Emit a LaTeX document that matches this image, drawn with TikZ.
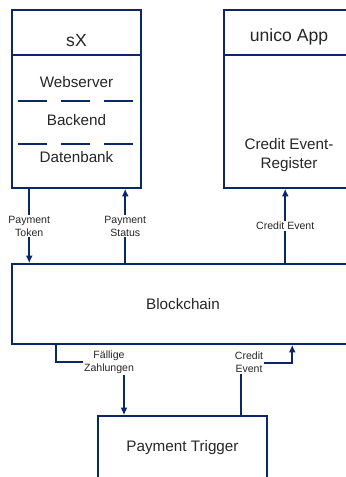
\documentclass[tikz,border=0pt]{standalone}
\usepackage{fontspec}
\setmainfont{Liberation Sans}
\usetikzlibrary{arrows.meta}
\definecolor{navy}{RGB}{12,40,100}

\begin{document}
\begin{tikzpicture}[
        box/.style={rectangle, draw=navy, line width=1.3pt, fill=white, font=\fontsize{13}{15.5}\selectfont, text=black!85},
        txt/.style={font=\fontsize{13}{15.5}\selectfont, text=black!85, align=center},
        head/.style={font=\fontsize{15}{18}\selectfont, text=black!85},
        lbl/.style={fill=white, inner sep=1pt, font=\fontsize{9}{11}\selectfont, text=black!85, align=center},
        arrow/.style={-{Latex[length=6.5pt,width=6pt]}, draw=navy, line width=1.3pt},
        sep/.style={draw=navy, line width=1.3pt, dash pattern=on 0.87cm off 0.42cm}
    ]
        \useasboundingbox (0,0) rectangle (10.35,-14.31);
        % sX
        \node[box, minimum width=3.87cm, minimum height=5.34cm] (sx) at (2.295,-2.97) {};
        \node[box, anchor=north, minimum width=3.87cm, minimum height=1.35cm] (sxhead) at (sx.north) {};
        \node[head] (sxname) at (2.295,-1.23) {sX};
        \node[txt] (web) at (2.295,-2.46) {Webserver};
        \node[txt] (backend) at (2.295,-3.6) {Backend};
        \node[txt] (db) at (2.295,-4.71) {Datenbank};
        \draw[sep] (0.54,-3.03) -- (3.99,-3.03);
        \draw[sep] (0.54,-4.32) -- (3.99,-4.32);

        % unico App
        \node[box, minimum width=3.9cm, minimum height=5.34cm] (unico) at (8.67,-2.97) {};
        \node[box, anchor=north, minimum width=3.9cm, minimum height=1.35cm] (unicohead) at (unico.north) {};
        \node[head] (uniconame) at (8.67,-1.11) {unico App};
        \node[txt] (register) at (8.67,-4.65) {Credit Event-\\Register};

        \node[box, minimum width=10.26cm, minimum height=2.4cm] (chain) at (5.49,-9.12) {Blockchain};
        \node[box, minimum width=5.07cm, minimum height=1.92cm] (trigger) at (5.475,-13.44) {Payment Trigger};

        \coordinate (due) at (3.72,-10.86);
        \coordinate (credit) at (7.23,-10.89);

        \draw[arrow] ([xshift=0.54cm]sx.south west) -- ([xshift=0.54cm]sx.south west |- chain.north) node[midway, lbl] {Payment\\Token};
        \draw[arrow] ([xshift=3.42cm]chain.north west) -- ([xshift=3.42cm]chain.north west |- sx.south) node[midway, lbl] {Payment\\Status};
        \draw[arrow] ([xshift=8.22cm]chain.north west) -- ([xshift=8.22cm]chain.north west |- unico.south) node[midway, lbl] {Credit Event};
        \draw[arrow] ([xshift=1.35cm]chain.south west) |- (due) -- (due |- trigger.north);
        \node[lbl] (duelbl) at (3.27,-10.86) {Fällige\\Zahlungen};
        \draw[arrow] (credit |- trigger.north) -- (credit) -| ([xshift=8.43cm]chain.south west);
        \node[lbl] (creditlbl) at (7.47,-10.87) {Credit\\Event};
    \end{tikzpicture}
\end{document}
